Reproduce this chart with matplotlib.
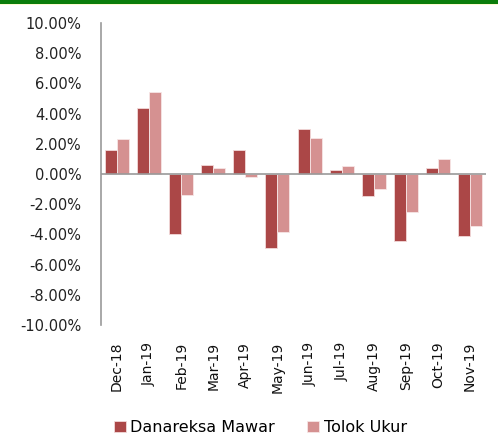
import numpy as np
import matplotlib.pyplot as plt
from matplotlib.patches import Rectangle
from matplotlib.ticker import FuncFormatter

months = ['Dec-18', 'Jan-19', 'Feb-19', 'Mar-19', 'Apr-19', 'May-19',
          'Jun-19', 'Jul-19', 'Aug-19', 'Sep-19', 'Oct-19', 'Nov-19']
danareksa = [1.60, 4.40, -3.95, 0.61, 1.56, -4.90, 3.00, 0.25, -1.47, -4.44, 0.41, -4.13]
tolok = [2.35, 5.46, -1.36, 0.41, -0.23, -3.84, 2.40, 0.52, -0.98, -2.51, 0.98, -3.47]
yticks = np.arange(-10, 11, 2)

plt.rcParams['font.family'] = ['DejaVu Sans']

fig = plt.figure(figsize=(4.98, 4.36), dpi=100)
ax = fig.add_axes([101 / 498, 1 - 325 / 436, 385 / 498, 302 / 436])

# green band across the top
fig.patches.append(Rectangle((0, 1 - 4 / 436), 1, 4 / 436, transform=fig.transFigure,
                             facecolor='#0b7d0b', edgecolor='none'))
fig.patches.append(Rectangle((0, 1 - 5.5 / 436), 1, 1.5 / 436, transform=fig.transFigure,
                             facecolor='#fffbd0', edgecolor='none'))

x = np.arange(len(months))
w = 0.375
ax.bar(x - w / 2, danareksa, w, color='#ab4747', edgecolor='#f2dada', linewidth=0.6,
       label='Danareksa Mawar', zorder=2)
ax.bar(x + w / 2, tolok, w, color='#d59191', edgecolor='#f7e6e6', linewidth=0.6,
       label='Tolok Ukur', zorder=2)

ax.set_xlim(-0.5, len(months) - 0.5)
ax.set_ylim(-10, 10)
ax.set_yticks(yticks)
ax.yaxis.set_major_formatter(FuncFormatter(lambda v, p: f'{v:.2f}%'))
ax.axhline(0, color='#9a9a9a', linewidth=1.2, zorder=3)

for s in ['top', 'right', 'bottom']:
    ax.spines[s].set_visible(False)
ax.spines['left'].set_color('#9a9a9a')
ax.spines['left'].set_linewidth(1.2)

ax.set_xticks(x)
ax.set_xticklabels(months, rotation=90, fontsize=10)
ax.tick_params(axis='x', length=0, pad=12)
ax.tick_params(axis='y', length=0, pad=14, labelsize=10.5)
for t in ax.get_yticklabels():
    t.set_color('#222222')
for t in ax.get_xticklabels():
    t.set_color('#111111')

leg = fig.legend(loc='lower left', bbox_to_anchor=(104 / 498, -0.02), ncol=2, frameon=False,
                 fontsize=11.5, handlelength=0.75, handleheight=0.75, handletextpad=0.3,
                 columnspacing=2.0, borderaxespad=0.2)

fig.savefig('out.png', dpi=100)
